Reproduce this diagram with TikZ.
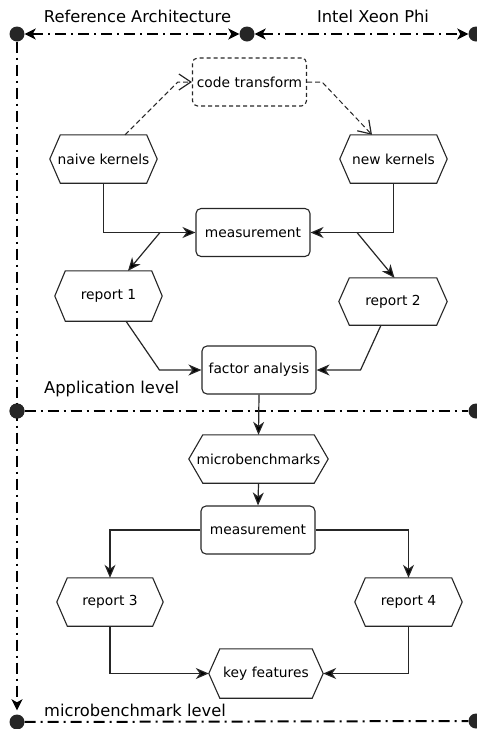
\documentclass[tikz,border=0pt]{standalone}
\usepackage{fontspec}
\setmainfont{DejaVu Sans}
\usetikzlibrary{arrows.meta,calc}
\definecolor{ln}{HTML}{262626}
\newcommand\nodefnt{\fontsize{13.8}{16}\selectfont}
\newcommand\labfnt{\fontsize{16.3}{19}\selectfont}
\begin{document}
\begin{tikzpicture}[x=1pt,y=-1pt,
  box/.style={draw=ln, line width=1.1pt, rounded corners=5pt, minimum width=114pt, minimum height=48pt, font=\nodefnt, inner sep=0pt},
  hexn/.style={draw=none, minimum height=48pt, font=\nodefnt, inner sep=0pt},
  hexline/.style={draw=ln, line width=1.1pt},
  conn/.style={draw=ln, line width=1.2pt, -{Stealth[length=13pt,width=11pt,inset=4pt,fill=black]}},
  dashconn/.style={draw=ln, line width=1pt, dash pattern=on 5pt off 3pt, -{Straight Barb[length=12pt,width=16pt,line width=1.2pt]}},
  dot/.style={circle, fill=ln, minimum size=15pt, inner sep=0pt},
  level/.style={draw=black, line width=2pt, dash pattern=on 11pt off 5pt on 2pt off 5pt},
  toparr/.style={draw=black, line width=1.8pt, dash pattern=on 11pt off 5pt on 2pt off 5pt, {Stealth[length=11pt,width=11pt,inset=3pt]}-{Stealth[length=11pt,width=11pt,inset=3pt]}},
  lab/.style={font=\labfnt, inner sep=0pt}
]
\useasboundingbox (0,0) rectangle (477,729);

% level dots
\node[dot] (d1) at (17,34) {};
\node[dot] (d2) at (247,34) {};
\node[dot] (d7) at (476,34) {};
\node[dot] (d3) at (17,411) {};
\node[dot] (d4) at (476,411) {};
\node[dot] (d5) at (17,722) {};
\node[dot] (d6) at (476,721) {};

% level lines
\draw[toparr] (d1) -- (d2);
\draw[toparr] (d2) -- (d7);
\draw[level, -{Stealth[length=11pt,width=11pt,inset=3pt]}, shorten >=4pt] (d1) -- (d5);
\draw[level] (d3) -- (d4);
\draw[level] (d5) -- (d6);
\node[dot] at (17,411) {};

% labels
\node[lab] (la) at (137.5,16) {Reference Architecture};
\node[lab] (lb) at (373,16) {Intel Xeon Phi};
\node[lab, anchor=west] (lc) at (44,389) {Application level};
\node[lab, anchor=west] (ld) at (44,710) {microbenchmark level};

% nodes
\node[box, dash pattern=on 4pt off 3pt] (ct) at (249.5,82) {code transform};
\node[hexn, minimum width=107pt] (naive) at (103.5,159) {naive kernels};
\node[hexn, minimum width=107pt] (newk) at (393.5,159) {new kernels};
\node[box] (m1) at (253,232.5) {measurement};
\node[hexn, minimum width=107pt, minimum height=50pt] (r1) at (108.5,296) {report 1};
\node[hexn, minimum width=108pt, minimum height=47pt] (r2) at (393,301.5) {report 2};
\node[box] (fa) at (259,370) {factor analysis};
\node[hexn, minimum width=139pt] (micro) at (258.5,459) {microbenchmarks};
\node[box] (m2) at (258,530) {measurement};
\node[hexn, minimum width=106pt] (r3) at (110,602) {report 3};
\node[hexn, minimum width=107pt] (r4) at (408.5,602) {report 4};
\node[hexn, minimum width=114pt, minimum height=49pt] (kf) at (266,673.5) {key features};

\foreach \n/\i in {naive/10.5, newk/10.5, r1/10.5, r2/10.5, micro/14, r3/10.5, r4/10.5, kf/11}
  \draw[hexline] (\n.west) -- ($(\n.north west)+(\i,0)$) -- ($(\n.north east)+(-\i,0)$) -- (\n.east)
     -- ($(\n.south east)+(-\i,0)$) -- ($(\n.south west)+(\i,0)$) -- cycle;

% dashed transform arrows
\coordinate (c1) at ($(ct.west)+(-14,0)$);
\coordinate (c2) at ($(ct.east)+(15,0)$);
\draw[dashconn] ($(naive.north)+(21.5,0)$) -- (c1) -- (ct.west);
\draw[dashconn] (ct.east) -- (c2) -- ($(newk.north)+(-21.5,0)$);

% connectors upper
\draw[conn] (naive.south) |- (m1.west);
\draw[conn] (newk.south) |- (m1.east);
\coordinate (b1) at (160,232.5);
\coordinate (b2) at (357,232.5);
\draw[conn] (b1) -- ($(r1.north)+(19.5,0)$);
\draw[conn] (b2) -- ($(r2.north)+(1.5,0)$);
\coordinate (k1) at ($(fa.west)+(-42,0)$);
\coordinate (k2) at ($(fa.east)+(44,0)$);
\draw[conn] ($(r1.south)+(17.5,0)$) -- (k1) -- (fa.west);
\draw[conn] ($(r2.south)+(-12,0)$) -- (k2) -- (fa.east);
\draw[conn] (fa.south) -- (micro.north);

% connectors lower
\draw[conn] (micro.south) -- (m2.north);
\draw[conn] (m2.west) -| (r3.north);
\draw[conn] (m2.east) -| (r4.north);
\draw[conn] (r3.south) |- (kf.west);
\draw[conn] (r4.south) |- (kf.east);
\end{tikzpicture}
\end{document}
